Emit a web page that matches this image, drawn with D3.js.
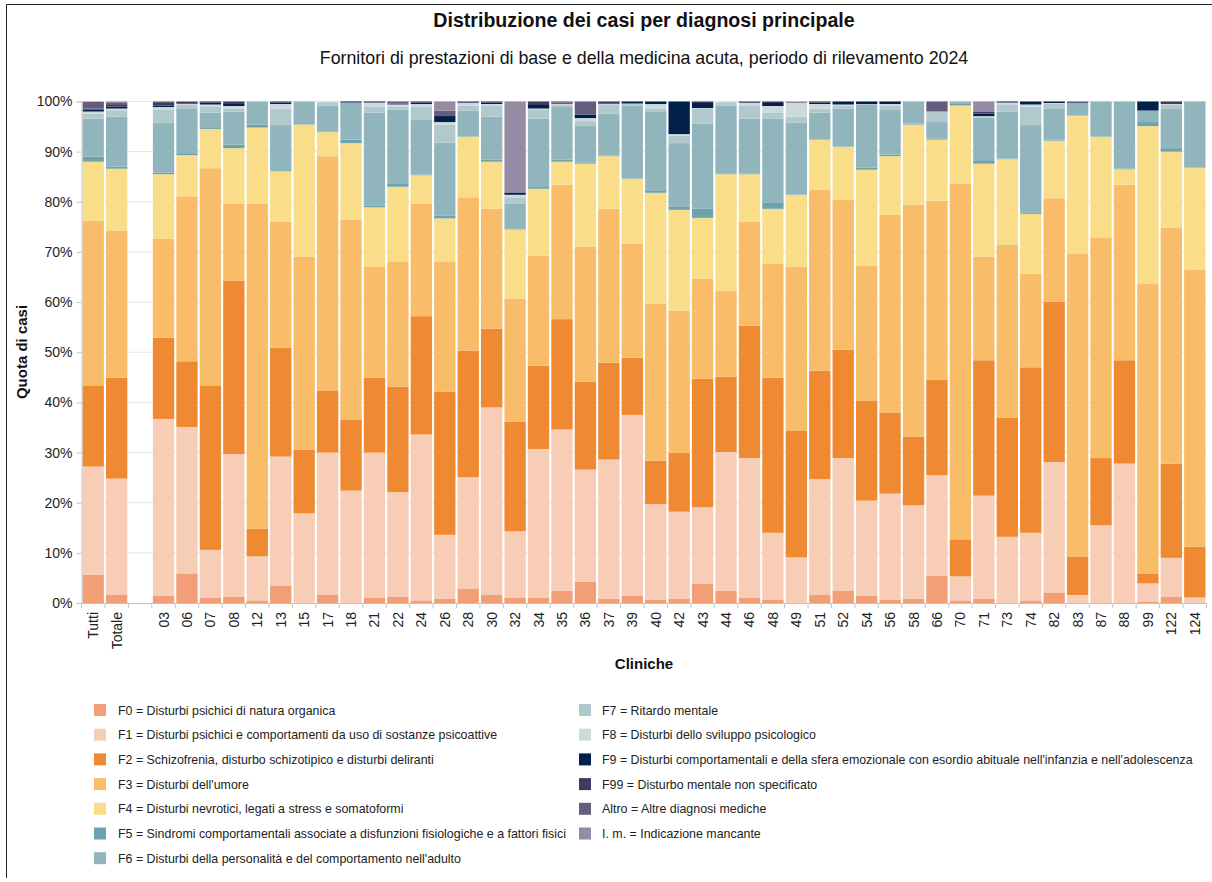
<!DOCTYPE html>
<html>
<head>
<meta charset="utf-8">
<script src="https://cdn.jsdelivr.net/npm/d3@7"></script>
<style>
  body { margin: 0; background: #fff; }
  svg { display: block; font-family: "Liberation Sans", Arial, sans-serif; }
</style>
</head>
<body>
<div id="chart"></div>
<script>
// Cliniche (Tutti + Totale, poi le singole cliniche)
const categories = ["Tutti","Totale","03","06","07","08","12","13","15","17","18","21","22","24","26","28","30","32","34","35","36","37","39","40","42","43","44","46","48","49","51","52","54","56","58","66","70","71","73","74","82","83","87","88","99","122","124"];

// Quote (%) per diagnosi
const F0 = [5.6,1.6,1.4,5.9,1.0,1.2,0.5,3.5,0.1,1.7, 0,1.1,1.2,0.5,0.8,2.8,1.6,1.0,1.0,2.5, 4.2,0.9,1.4,0.7,0.8,3.9,2.5,1.0,0.7,0.1, 1.7,2.5,1.4,0.7,0.8,5.5,0.5,0.8,0,0.5, 2.1,0.1,0,0,0.3,1.2,0.1];
const F1 = [21.6,23.2,35.3,29.2,9.6,28.5,8.8,25.7,17.8,28.3, 22.4,28.9,20.9,33.1,12.8,22.3,37.4,13.3,29.7,32.1, 22.4,27.7,36.1,19.0,17.4,15.2,27.6,27.9,13.3,9.0, 23.0,26.4,19.0,21.1,18.7,20.0,4.8,20.6,13.2,13.5, 26.0,1.5,15.5,27.8,3.6,7.8,1.0];
const F2 = [16.2,20.1,16.2,13.1,32.8,34.6,5.5,21.7,12.7,12.4, 14.2,14.9,21.0,23.6,28.5,25.2,15.7,21.8,16.6,22.0, 17.5,19.3,11.4,8.7,11.7,25.6,15.0,26.4,30.9,25.2, 21.6,21.6,20.0,16.2,13.7,19.0,7.4,27.0,23.8,33.0, 32.0,7.7,13.4,20.6,2.0,18.8,10.1];
const F3 = [32.8,29.4,19.7,32.9,43.3,15.4,64.9,25.1,38.5,46.7, 39.8,22.1,24.9,22.5,25.9,30.6,23.9,24.6,22.0,26.8, 27.0,30.7,22.7,31.3,28.4,20.0,17.1,20.7,22.7,32.8, 36.1,29.9,26.8,39.4,46.2,35.7,70.9,20.7,34.4,18.7, 20.6,60.3,44.0,35.0,57.7,47.1,55.3];
const F4 = [11.8,12.3,12.9,8.2,7.8,11.0,15.1,10.1,26.3,4.8, 15.3,11.9,15.0,5.6,8.7,12.1,9.4,13.8,13.3,4.6, 16.5,10.5,13.0,22.1,20.1,12.1,23.3,9.5,11.0,14.3, 10.0,10.6,19.2,11.7,16.0,12.2,15.6,18.5,17.1,11.9, 11.5,27.6,20.1,3.1,31.5,15.1,20.3];
const F5 = [1.0,0.4,0.3,0.4,0.2,0.7,0.6,0.2,0,0.1, 0.7,0.3,0.7,0.1,0.5,0.1,0.4,0.1,0.5,0.4, 0.2,0.1,0.1,0.5,0.7,1.8,0.1,0.1,1.3,0.1, 0.1,0.1,0.4,0.3,0.2,0.2,0.3,0.7,0.1,0.3, 0.2,0.1,0.1,0.1,0.8,0.7,0.1];
const F6 = [7.6,10.0,9.9,8.8,3.1,6.6,4.6,9.0,4.6,5.2, 7.4,18.6,14.7,10.9,14.6,5.1,8.6,5.1,13.5,10.5, 7.3,8.4,14.5,15.6,12.6,17.0,13.6,11.0,16.7,14.3, 5.3,7.5,12.5,8.9,4.4,3.3,0.5,8.5,9.4,17.4, 6.1,2.4,6.9,13.4,2.3,7.8,13.1];
const F7 = [1.0,1.1,2.6,0.8,1.1,0.6,0,3.3,0,0.5, 0,1.2,0.6,2.6,3.6,1.0,2.1,1.2,1.7,0.4, 1.0,1.7,0.3,0.6,1.5,2.9,0.5,2.5,1.2,1.2, 0.8,0.6,0.2,0.9,0,2.0,0,0.3,1.3,3.7, 1.0,0,0,0,0,0.8,0];
const F8 = [0.4,0.5,0.6,0.2,0.5,0.5,0,0.9,0,0.3, 0,0.8,0.4,0.6,0.5,0.5,0.4,0.5,0.3,0.2, 0.6,0.2,0.1,1.0,0.3,0.2,0.3,0.6,1.3,2.7, 0.9,0.2,0,0.3,0,0.1,0,0,0.5,0.4, 0.2,0,0,0,0,0.2,0];
const F9 = [0.4,0.4,0.3,0.1,0.4,0.4,0,0.3,0,0, 0.2,0.2,0,0.3,1.2,0.1,0.3,0.4,0.7,0.1, 0.7,0.1,0.4,0.5,6.5,1.0,0,0.1,0.6,0, 0.3,0.6,0.5,0.5,0,0,0,0.5,0.2,0.6, 0.3,0,0,0,1.8,0,0];
const F99 = [0.2,0.3,0.5,0.3,0.2,0.5,0,0.2,0,0, 0,0,0.2,0.2,0,0.2,0.2,0.1,0.7,0.2, 0,0.4,0,0,0,0.3,0,0.2,0.3,0, 0.2,0,0,0,0,0,0,0.3,0,0, 0,0,0,0,0,0.5,0];
const Altro = [1.3,0.4,0.3,0.1,0,0,0,0,0,0, 0,0,0.4,0,1.1,0,0,0,0,0.2, 2.6,0,0,0,0,0,0,0,0,0, 0,0,0,0,0,2.0,0,0,0,0, 0,0.3,0,0,0,0,0];
const IM = [0.1,0.3,0,0,0,0,0,0,0,0, 0,0,0,0,1.8,0,0,18.1,0,0, 0,0,0,0,0,0,0,0,0,0.3, 0,0,0,0,0,0,0,2.1,0,0, 0,0,0,0,0,0,0];

const seriesKeys = ["F0","F1","F2","F3","F4","F5","F6","F7","F8","F9","F99","Altro","IM"];
const seriesValues = [F0,F1,F2,F3,F4,F5,F6,F7,F8,F9,F99,Altro,IM];
const seriesLabels = [
  "F0 = Disturbi psichici di natura organica",
  "F1 = Disturbi psichici e comportamenti da uso di sostanze psicoattive",
  "F2 = Schizofrenia, disturbo schizotipico e disturbi deliranti",
  "F3 = Disturbi dell'umore",
  "F4 = Disturbi nevrotici, legati a stress e somatoformi",
  "F5 = Sindromi comportamentali associate a disfunzioni fisiologiche e a fattori fisici",
  "F6 = Disturbi della personalità e del comportamento nell'adulto",
  "F7 = Ritardo mentale",
  "F8 = Disturbi dello sviluppo psicologico",
  "F9 = Disturbi comportamentali e della sfera emozionale con esordio abituale nell'infanzia e nell'adolescenza",
  "F99 = Disturbo mentale non specificato",
  "Altro = Altre diagnosi mediche",
  "I. m. = Indicazione mancante"
];
const seriesColors = ["#f29e76","#f8cdb5","#ef8a33","#f9bd6a","#fadd89","#6ca3b0","#91b5bc","#b1c8cc","#cbdadd","#02214a","#423a5e","#665c7e","#958ba4"];
const yTicks = [0,10,20,30,40,50,60,70,80,90,100];

// Dimensioner
const W = 1212, H = 882;
const plot = { left: 81.5, right: 1206.5, top: 101.5, bottom: 603 };

const svg = d3.select("#chart").append("svg")
  .attr("width", W).attr("height", H);

svg.append("rect").attr("width", W).attr("height", H).attr("fill", "#fff");

// ramme (top + venstre)
svg.append("path")
  .attr("d", `M6.5,878 V4.5 H${W}`)
  .attr("fill", "none").attr("stroke", "#222").attr("stroke-width", 1);

// Titler
svg.append("text").attr("x", 644).attr("y", 27).attr("text-anchor", "middle")
  .attr("font-size", 19.6).attr("font-weight", "bold").attr("fill", "#111")
  .text("Distribuzione dei casi per diagnosi principale");
svg.append("text").attr("x", 644).attr("y", 63.5).attr("text-anchor", "middle")
  .attr("font-size", 17.8).attr("fill", "#111")
  .text("Fornitori di prestazioni di base e della medicina acuta, periodo di rilevamento 2024");

// Skalaer (tom plads efter "Totale")
const domain = [categories[0], categories[1], "__gap__", ...categories.slice(2)];
const x = d3.scaleBand().domain(domain)
  .range([plot.left, plot.right]).paddingInner(0.09).paddingOuter(0.045);
const y = d3.scaleLinear().domain([0, 100]).range([plot.bottom, plot.top]);

// Gitterlinjer
svg.append("g").selectAll("line").data(yTicks.filter(d => d > 0)).join("line")
  .attr("x1", plot.left).attr("x2", plot.right)
  .attr("y1", d => y(d)).attr("y2", d => y(d))
  .attr("stroke", "#e6e6e6").attr("stroke-width", 1);

// Stak data
const rows = categories.map((c, i) => {
  const r = { cat: c };
  seriesKeys.forEach((k, j) => r[k] = seriesValues[j][i]);
  return r;
});
const stacked = d3.stack().keys(seriesKeys)(rows);

svg.append("g").selectAll("g").data(stacked).join("g")
  .attr("fill", (d, i) => seriesColors[i])
  .selectAll("rect").data(d => d).join("rect")
  .attr("x", d => x(d.data.cat))
  .attr("width", x.bandwidth())
  .attr("y", d => y(d[1]))
  .attr("height", d => Math.max(0, y(d[0]) - y(d[1])));

// Y-akse
const yAxis = svg.append("g")
  .attr("transform", `translate(${plot.left},0)`)
  .call(d3.axisLeft(y).tickValues(yTicks).tickFormat(d => d + "%").tickSize(5).tickPadding(4));
yAxis.select(".domain").attr("stroke", "#c4c4c4");
yAxis.selectAll(".tick line").attr("stroke", "#c4c4c4");
yAxis.selectAll("text").attr("font-size", 14).attr("fill", "#222")
  .attr("font-family", "'Liberation Sans', Arial, sans-serif");

// X-akse
const xg = svg.append("g");
xg.append("line").attr("x1", plot.left).attr("x2", plot.right)
  .attr("y1", plot.bottom + 0.5).attr("y2", plot.bottom + 0.5)
  .attr("stroke", "#c4c4c4");
const gapHalf = x.step() * x.paddingInner() / 2;
const boundaries = domain.map(d => x(d) - gapHalf).concat([x(domain[domain.length - 1]) + x.bandwidth() + gapHalf]);
xg.selectAll("line.tick").data(boundaries).join("line").attr("class", "tick")
  .attr("x1", d => d).attr("x2", d => d)
  .attr("y1", plot.bottom).attr("y2", plot.bottom + 5)
  .attr("stroke", "#c4c4c4");
xg.selectAll("text").data(categories).join("text")
  .attr("transform", d => `translate(${x(d) + x.bandwidth() / 2 + 5},${plot.bottom + 9}) rotate(-90)`)
  .attr("text-anchor", "end")
  .attr("font-size", 14).attr("fill", "#222")
  .text(d => d);

// Aksetitler
svg.append("text").attr("x", 644).attr("y", 669).attr("text-anchor", "middle")
  .attr("font-size", 15).attr("font-weight", "bold").attr("fill", "#111")
  .text("Cliniche");
svg.append("text").attr("transform", `translate(27,352) rotate(-90)`)
  .attr("text-anchor", "middle")
  .attr("font-size", 15).attr("font-weight", "bold").attr("fill", "#111")
  .text("Quota di casi");

// Legende (to kolonner)
const legend = svg.append("g");
const rowStep = 24.7;
seriesKeys.forEach((k, i) => {
  const col = i < 7 ? 0 : 1;
  const row = i < 7 ? i : i - 7;
  const gx = col === 0 ? 94 : 579;
  const gy = 710 + row * rowStep;
  legend.append("rect").attr("x", gx).attr("y", gy - 6).attr("width", 12).attr("height", 12)
    .attr("fill", seriesColors[i]);
  legend.append("text").attr("x", gx + (col === 0 ? 24 : 23)).attr("y", gy + 4.5)
    .attr("font-size", 12.4).attr("fill", "#222")
    .text(seriesLabels[i]);
});
</script>
</body>
</html>
